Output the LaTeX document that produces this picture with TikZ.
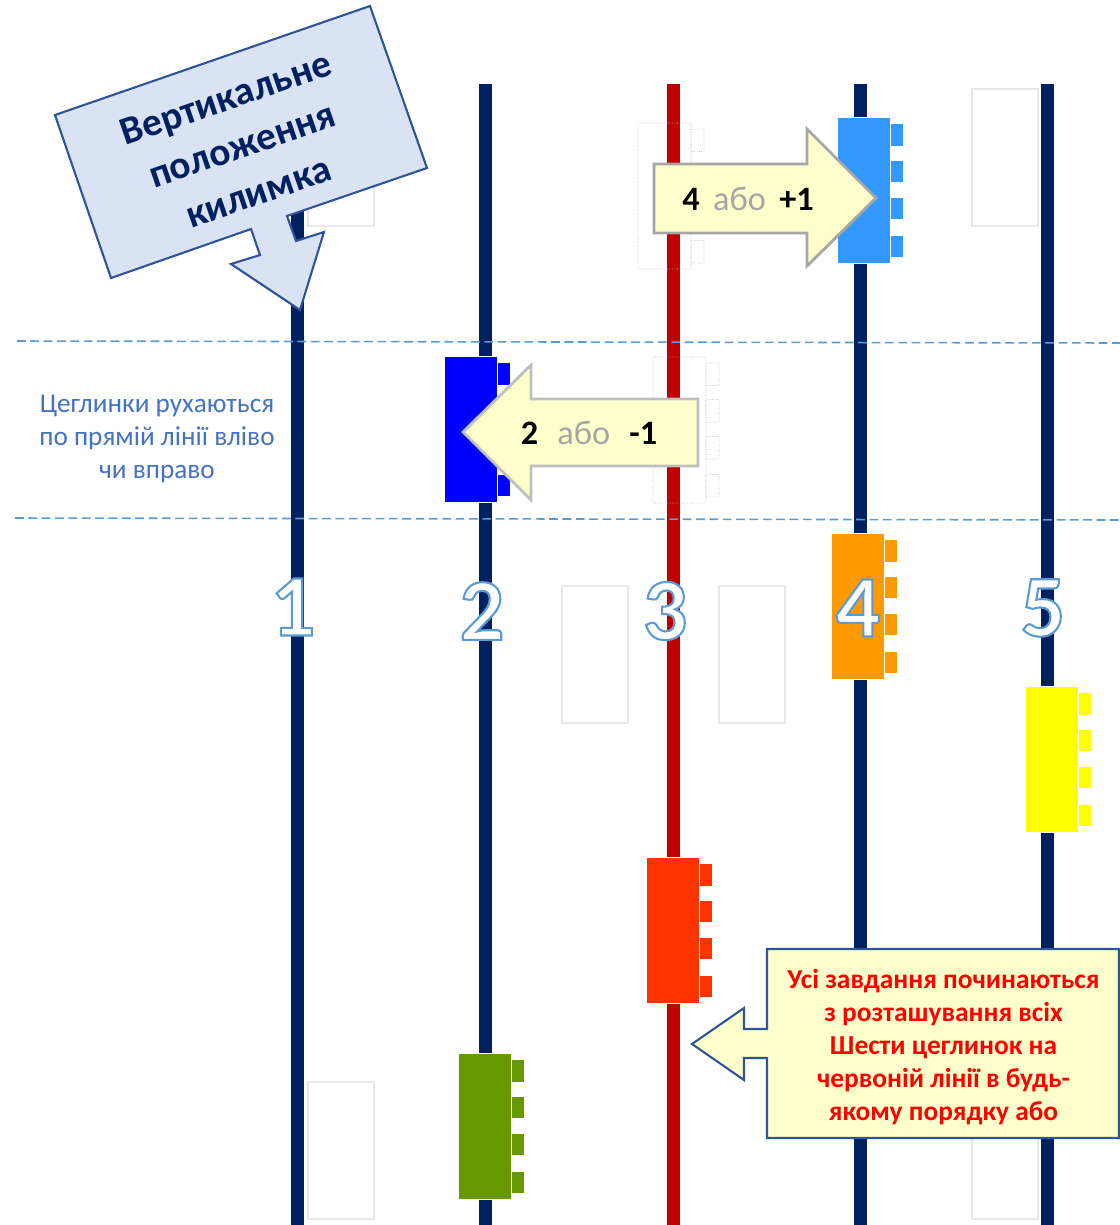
\documentclass[tikz,border=0pt]{standalone}
\usepackage{fontspec}
\setmainfont{Carlito}
\usetikzlibrary{calc}
\definecolor{navyrail}{HTML}{002060}
\definecolor{redrail}{HTML}{C00000}
\definecolor{dashblue}{HTML}{5B9BD5}
\definecolor{calloutfill}{HTML}{DAE3F3}
\definecolor{calloutedge}{HTML}{2F5597}
\definecolor{notefill}{HTML}{FFFFCC}
\definecolor{notetext}{HTML}{4472C4}
\definecolor{skybrick}{HTML}{3399FF}
\definecolor{orangebrick}{HTML}{FF9900}
\definecolor{yellowbrick}{HTML}{FFFF00}
\definecolor{redbrick}{HTML}{FF3300}
\definecolor{greenbrick}{HTML}{669900}
\tikzstyle{rail}=[line width=7.4pt]
\tikzstyle{guide}=[draw=dashblue, line width=0.9pt, dash pattern=on 5pt off 2.6pt]
\tikzstyle{brick}=[rectangle, minimum width=1.06cm, minimum height=2.92cm, inner sep=0pt, outer sep=0pt, anchor=north west]
\tikzstyle{stud}=[rectangle, minimum width=0.26cm, minimum height=0.45cm, inner sep=0pt, outer sep=0pt, anchor=north west]
\tikzstyle{ghost}=[draw=black!28, line width=0.4pt, densely dotted, rounded corners=0.5pt]
\tikzstyle{blank}=[rectangle, minimum width=1.32cm, minimum height=2.74cm, inner sep=0pt, anchor=north west, draw=black!9, line width=1pt]
\tikzstyle{movearrow}=[fill=notefill, line width=1.6pt, line join=miter]
\tikzstyle{annot}=[align=center]
\newcommand{\drawbrick}[4]
{
  \node[brick, #4](#1) at (#2,#3){};
  \foreach \i/\dy in {a/0.12, b/0.85, c/1.59, d/2.35}
    \node[stud, #4](#1\i) at ($(#1.north east)+(0,-\dy cm)$){};
}
\newcommand{\drawdigit}[3]
{
  \node[annot, text=white, font=\bfseries\fontsize{50}{50}\selectfont](digit#1) at (#2,#3)
    {\special{pdf:code 2 Tr 1.2 w 0.357 0.608 0.835 RG}#1\special{pdf:code 0 Tr}};
}
\begin{document}
\begin{tikzpicture}[x=0.02cm, y=-0.02cm]
	\useasboundingbox (0,0) rectangle (1120,1225);

	\foreach \name/\x/\col in {one/297/navyrail, two/485/navyrail, three/673/redrail, four/860/navyrail, five/1047/navyrail}
	{
		\coordinate (top\name) at (\x,84);
		\coordinate (bot\name) at (\x,1225);
		\draw[rail, draw=\col] (top\name) -- (bot\name);
	}

	% empty places
	\node[blank](blankA) at (307,88){};
	\node[blank](blankB) at (971,88){};
	\node[blank](blankC) at (561,585){};
	\node[blank](blankD) at (718,585){};
	\node[blank](blankE) at (307,1081){};
	\node[blank](blankF) at (971,1081){};

	\drawbrick{ghostTop}{638}{123}{ghost}
	\drawbrick{ghostMid}{653}{357}{ghost}

	\drawbrick{brickSky}{837.5}{117.5}{fill=skybrick, draw=white, line width=0.3pt}
	\drawbrick{brickBlue}{444.5}{356.5}{fill=blue, draw=white, line width=0.3pt}
	\drawbrick{brickOrange}{831.5}{533.5}{fill=orangebrick, draw=white, line width=0.3pt}
	\drawbrick{brickYellow}{1025.5}{686.5}{fill=yellowbrick, draw=white, line width=0.3pt}
	\drawbrick{brickRed}{646.5}{857.5}{fill=redbrick, draw=white, line width=0.3pt}
	\drawbrick{brickGreen}{458.5}{1053.5}{fill=greenbrick, draw=white, line width=0.3pt}

	\coordinate (guideAl) at (17,341);
	\coordinate (guideAr) at (1120,343);
	\coordinate (guideBl) at (15,518);
	\coordinate (guideBr) at (1120,520);
	\draw[guide] (guideAl) -- (guideAr);
	\draw[guide] (guideBl) -- (guideBr);

	\node[annot, text=notetext, font=\fontsize{15.5}{18.9}\selectfont](moveNote) at (157,439)
		{Цеглинки рухаються\\по прямій лінії вліво\\чи вправо};

	\drawdigit{1}{293}{607}
	\drawdigit{2}{482}{611}
	\drawdigit{3}{665}{611}
	\drawdigit{4}{858}{608}
	\drawdigit{5}{1043}{608}

	% arrows over the bricks
	\draw[movearrow, draw=black!35] (654,164) -- (807,164) -- (807,129) -- (876,198) -- (807,266) -- (807,233) -- (654,233) -- cycle;
	\node[annot, font=\fontsize{19.5}{19.5}\selectfont](rightLabel) at (748,199)
		{\textbf{4}\, \textcolor{black!35}{або}\, \textbf{+1}};
	\draw[movearrow, draw=black!25] (698,399) -- (531,399) -- (531,365) -- (463,432) -- (531,500) -- (531,466) -- (698,466) -- cycle;
	\node[annot, font=\fontsize{19.5}{19.5}\selectfont](leftLabel) at (589,433)
		{\textbf{2}\,\, \textcolor{black!35}{або}\,\, \textbf{-1}};

	\draw[fill=calloutfill, draw=calloutedge, line width=1.2pt] (55,115) -- (370,6) -- (427,168) -- (287,216) -- (296,241) -- (324,232) -- (300,310) -- (231,264) -- (260,255) -- (251,229) -- (111,278) -- cycle;
	\node[annot, rotate=19, text=navyrail, font=\bfseries\fontsize{22.4}{28.3}\selectfont](matLabel) at (242,145)
		{Вертикальне\\положення\\килимка};

	\draw[fill=notefill, draw=calloutedge, line width=1.2pt] (767,949) -- (1119,949) -- (1119,1138) -- (767,1138) -- (767,1058) -- (744,1058) -- (744,1080) -- (692,1044) -- (744,1008) -- (744,1029) -- (767,1029) -- cycle;
	\node[annot, text=red, font=\bfseries\fontsize{15.6}{18.9}\selectfont](startNote) at (943.5,1047)
		{Усі завдання починаються\\з розташування всіх\\Шести цеглинок на\\червоній лінії в будь-\\якому порядку або};
\end{tikzpicture}
\end{document}
